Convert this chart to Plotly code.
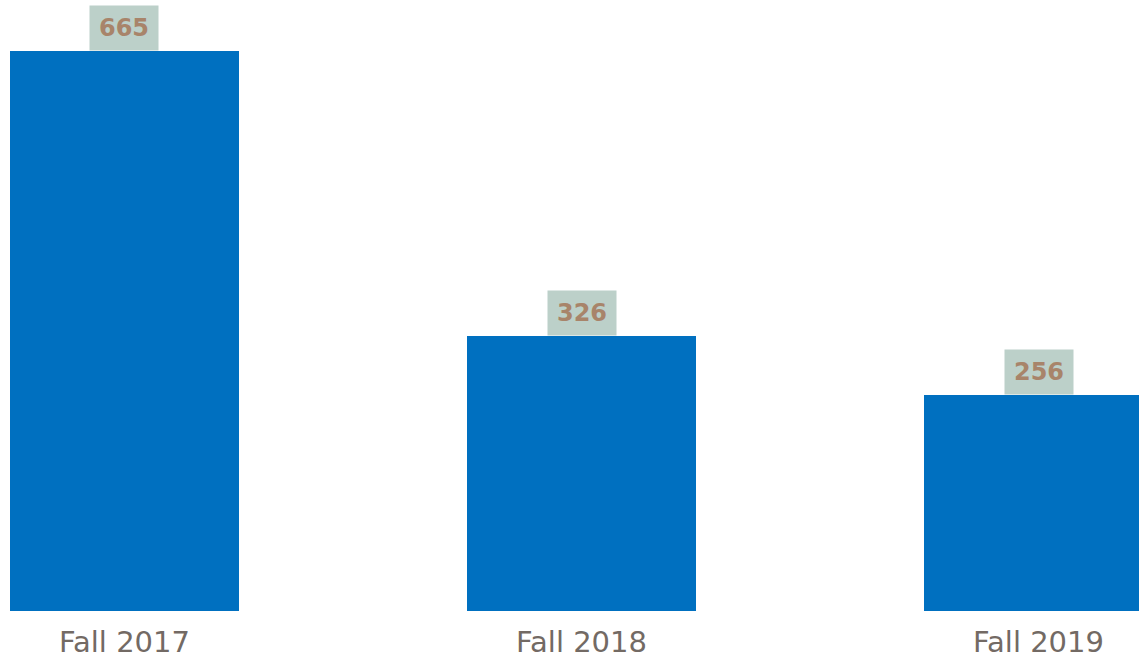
import plotly.graph_objects as go

categories = ["Fall 2017", "Fall 2018", "Fall 2019"]
values = [665, 326, 256]

fig = go.Figure()
fig.add_trace(go.Bar(
    x=categories, y=values,
    marker=dict(color="#0070C0", line=dict(width=0)),
    width=0.503,
    hoverinfo="skip",
))

for c, v in zip(categories, values):
    fig.add_annotation(
        x=c, y=v, text=f"<b>{v}</b>", showarrow=False,
        xanchor="center", yanchor="bottom",
        width=68, height=44, borderpad=0,
        bgcolor="#BCD0C9",
        font=dict(family="DejaVu Sans", size=24, color="#A8846A"),
    )

fig.update_layout(
    width=1139, height=659,
    margin=dict(l=0, r=0, t=0, b=48),
    paper_bgcolor="white", plot_bgcolor="white",
    showlegend=False,
    bargap=0,
    xaxis=dict(
        type="category", range=[-0.2724, 2.2199],
        showgrid=False, zeroline=False, showline=False, ticks="",
        ticklabelstandoff=11,
        tickfont=dict(family="DejaVu Sans", size=29, color="#736A64"),
    ),
    yaxis=dict(
        range=[0, 725.6], visible=False,
    ),
)

fig.write_html("out.html", config={"displayModeBar": False},
               post_script="document.body.style.margin='0';")
